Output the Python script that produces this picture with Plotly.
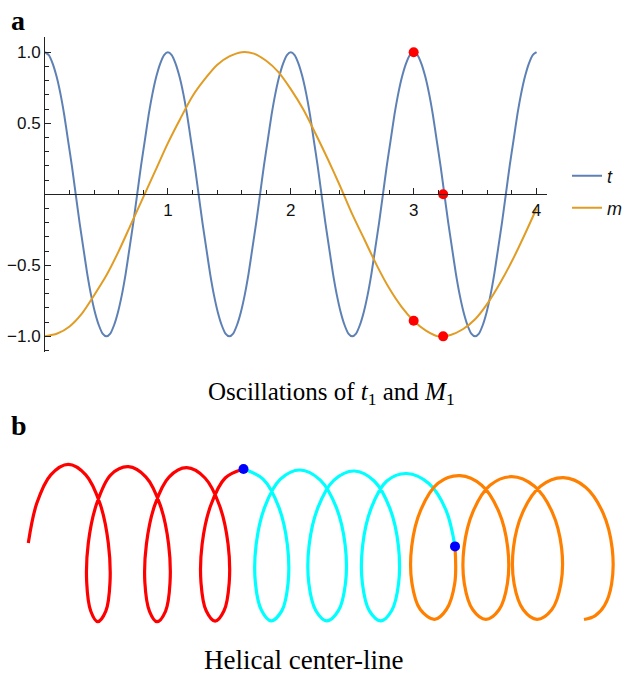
import plotly.graph_objects as go

# ---------------- Panel a data ----------------
# one period of t (read at 1/32 steps), the curve repeats 4 times over [0, 4]
t_period = [1.0, 0.98, 0.92, 0.83, 0.71, 0.56, 0.38, 0.20, 0.0, -0.20, -0.38, -0.56, -0.71, -0.83, -0.92, -0.98,
            -1.0, -0.98, -0.92, -0.83, -0.71, -0.56, -0.38, -0.20, 0.0, 0.20, 0.38, 0.56, 0.71, 0.83, 0.92, 0.98]
t_vals = t_period * 4 + [1.0]
t_x = [i / 32 for i in range(len(t_vals))]
m_x = [i * 0.1 for i in range(41)]
m_vals = [-1.00, -0.98, -0.93, -0.84, -0.71, -0.57, -0.40, -0.21, -0.02, 0.17,
          0.36, 0.53, 0.69, 0.81, 0.91, 0.97, 1.00, 0.99, 0.94, 0.86,
          0.74, 0.60, 0.43, 0.25, 0.06, -0.14, -0.32, -0.50, -0.66, -0.79,
          -0.89, -0.96, -1.00, -0.99, -0.95, -0.88, -0.77, -0.63, -0.47, -0.29,
          -0.10]
dot_x = [3.0, 3.24, 3.0, 3.24]
dot_y = [1.0, 0.0, -0.89, -1.0]

x_tickvals = [1, 2, 3, 4]
x_ticktext = ["1", "2", "3", "4"]
y_tickvals = [-1.0, -0.5, 0.5, 1.0]
y_ticktext = ["\u22121.0", "\u22120.5", "0.5", "1.0"]

# ---------------- Panel b data (projected helix) ----------------
red_x = [28.3, 36.7, 50.8,
         68.3, 85.8, 100.0, 108.3, 110.0, 105.8, 97.8, 90.8, 86.7, 88.3, 96.7, 110.8,
         128.3, 146.0, 160.3, 168.6, 170.0, 165.5, 157.0, 149.5, 144.9, 146.4, 154.7, 169.0,
         186.7, 205.0, 219.7, 228.1, 229.2, 224.0, 215.1, 206.2, 201.0, 202.1, 210.5, 225.2,
         243.5]
red_y = [2.0, 41.4, 70.2,
         80.7, 70.2, 41.4, 2.0, -37.4, -66.2, -76.7, -66.2, -37.4, 2.0, 41.4, 70.2,
         78.3, 67.9, 39.6, 0.8, -38.0, -66.3, -76.7, -66.3, -38.0, 0.8, 39.6, 67.9,
         77.3, 67.0, 39.0, 0.6, -37.8, -65.8, -76.1, -65.8, -37.8, 0.6, 39.0, 67.0,
         76.0]
cyan_x = [243.5, 263.1, 278.7, 287.4, 288.1, 281.9, 271.0, 261.6, 255.4, 256.1, 264.8, 280.4,
          300.0, 320.3, 336.4, 345.2, 345.5, 338.4, 326.9, 315.9, 308.8, 309.1, 317.9, 334.0,
          354.3, 374.2, 389.9, 398.4, 398.6, 391.6, 381.0, 369.4, 362.4, 362.6, 371.1, 386.8,
          406.7, 428.6, 445.9, 455.0]
cyan_y = [76.0, 65.8, 38.1, 0.1, -37.9, -65.6, -75.8, -65.6, -37.9, 0.1, 38.1, 65.8,
          75.0, 64.9, 37.3, -0.4, -38.1, -65.7, -75.8, -65.7, -38.1, -0.4, 37.3, 64.9,
          74.0, 64.0, 36.6, -0.9, -38.4, -65.8, -75.8, -65.8, -38.4, -0.9, 36.6, 64.0,
          71.5, 61.7, 35.1, -1.4]
orange_x = [455.0, 454.8, 446.4, 434.5, 420.3, 411.9, 411.7, 420.8, 438.0,
            460.0, 481.7, 498.8, 507.7, 507.4, 499.0, 485.9, 472.8, 464.3, 464.0, 473.0, 490.0,
            511.7, 534.5, 552.3, 561.6, 560.9, 551.7, 537.0, 523.3, 514.1, 513.4, 522.7, 540.5,
            563.3, 585.6, 603.1, 612.2, 611.6, 604.5, 595.0, 584.0]
orange_y = [-1.4, -37.9, -64.5, -74.3, -64.5, -37.9, -1.4, 35.1, 61.7,
            69.3, 59.7, 33.4, -2.5, -38.4, -64.7, -74.3, -64.7, -38.4, -2.5, 33.4, 59.7,
            68.3, 58.7, 32.7, -3.0, -38.7, -64.7, -74.3, -64.7, -38.7, -3.0, 32.7, 58.7,
            67.3, 57.8, 31.9, -3.5, -38.9, -60.5, -70.8, -74.5]
joint_x = [243.5, 455.0]
joint_y = [76.0, -1.4]

W, H = 628, 674
def px(v):
    return v / W
def py(v):
    return 1 - v / H

BLUE = "#5E81B5"
ORANGE = "#E19C24"
AX = "#222222"

fig = go.Figure()
fig.add_trace(go.Scatter(x=t_x, y=t_vals, mode="lines", name="t",
                         line=dict(color=BLUE, width=2, shape="spline", smoothing=0.6),
                         xaxis="x", yaxis="y", legend="legend"))
fig.add_trace(go.Scatter(x=m_x, y=m_vals, mode="lines", name="m",
                         line=dict(color=ORANGE, width=2, shape="spline", smoothing=0.8),
                         xaxis="x", yaxis="y", legend="legend2"))
fig.add_trace(go.Scatter(x=dot_x, y=dot_y, mode="markers", showlegend=False,
                         marker=dict(color="#FF0000", size=10),
                         xaxis="x", yaxis="y", cliponaxis=False))

for hx, hy, col in [(red_x, red_y, "#FF0000"), (cyan_x, cyan_y, "#00FFFF"),
                    (orange_x, orange_y, "#FF8000")]:
    fig.add_trace(go.Scatter(x=hx, y=hy, mode="lines", showlegend=False,
                             line=dict(color=col, width=3.2, shape="spline"),
                             xaxis="x2", yaxis="y2"))
fig.add_trace(go.Scatter(x=joint_x, y=joint_y, mode="markers", showlegend=False,
                         marker=dict(color="#0000FF", size=10),
                         xaxis="x2", yaxis="y2"))

ticklabfont = dict(family="Liberation Sans, Arial, sans-serif", size=17, color="#111")
fig.update_layout(
    width=W, height=H,
    margin=dict(l=0, r=0, t=0, b=0),
    paper_bgcolor="white", plot_bgcolor="rgba(0,0,0,0)",
    xaxis=dict(domain=[px(45), px(547)], range=[0, 4.085], anchor="free",
               position=py(194.3), showline=True, linecolor=AX, linewidth=1,
               ticks="inside", ticklen=6, tickcolor=AX, tickwidth=1,
               tickmode="array", tickvals=x_tickvals, ticktext=x_ticktext,
               tickfont=ticklabfont, showgrid=False, zeroline=False,
               minor=dict(tickmode="linear", tick0=0, dtick=0.2, ticks="inside",
                          ticklen=4, tickcolor=AX, tickwidth=1, showgrid=False)),
    yaxis=dict(domain=[py(352), py(37)], range=[-1.110, 1.107], anchor="x",
               showline=True, linecolor=AX, linewidth=1,
               ticks="inside", ticklen=6, tickcolor=AX, tickwidth=1,
               tickmode="array", tickvals=y_tickvals, ticktext=y_ticktext,
               tickfont=ticklabfont, showgrid=False, zeroline=False,
               minor=dict(tickmode="linear", tick0=0, dtick=0.1, ticks="inside",
                          ticklen=4, tickcolor=AX, tickwidth=1, showgrid=False)),
    xaxis2=dict(domain=[0, 1], range=[0, W], visible=False, anchor="y2"),
    yaxis2=dict(domain=[0, py(430)], range=[545 - 674, 545 - 430], visible=False,
                anchor="x2"),
    legend=dict(x=px(567), y=py(176), xanchor="left", yanchor="middle",
                bgcolor="rgba(0,0,0,0)", itemwidth=30,
                font=dict(family="Liberation Sans, Arial, sans-serif", size=18,
                          color="#111", style="italic")),
    legend2=dict(x=px(567), y=py(208), xanchor="left", yanchor="middle",
                 bgcolor="rgba(0,0,0,0)", itemwidth=30,
                 font=dict(family="Liberation Sans, Arial, sans-serif", size=18,
                           color="#111", style="italic")),
    showlegend=True,
)

serif = "Liberation Serif, Times New Roman, serif"
fig.add_annotation(text="<b>a</b>", x=px(9), y=py(20), xref="paper", yref="paper",
                   xanchor="left", yanchor="middle", showarrow=False,
                   font=dict(family=serif, size=28, color="black"))
fig.add_annotation(text="<b>b</b>", x=px(9), y=py(426), xref="paper", yref="paper",
                   xanchor="left", yanchor="middle", showarrow=False,
                   font=dict(family=serif, size=28, color="black"))
fig.add_annotation(text="Oscillations of <i>t</i><sub>1</sub> and <i>M</i><sub>1</sub>",
                   x=px(206), y=py(393), xref="paper", yref="paper",
                   xanchor="left", yanchor="middle", showarrow=False,
                   font=dict(family=serif, size=25, color="black"))
fig.add_annotation(text="Helical center-line",
                   x=px(202), y=py(660), xref="paper", yref="paper",
                   xanchor="left", yanchor="middle", showarrow=False,
                   font=dict(family=serif, size=27, color="black"))

fig.write_html("out.html")
